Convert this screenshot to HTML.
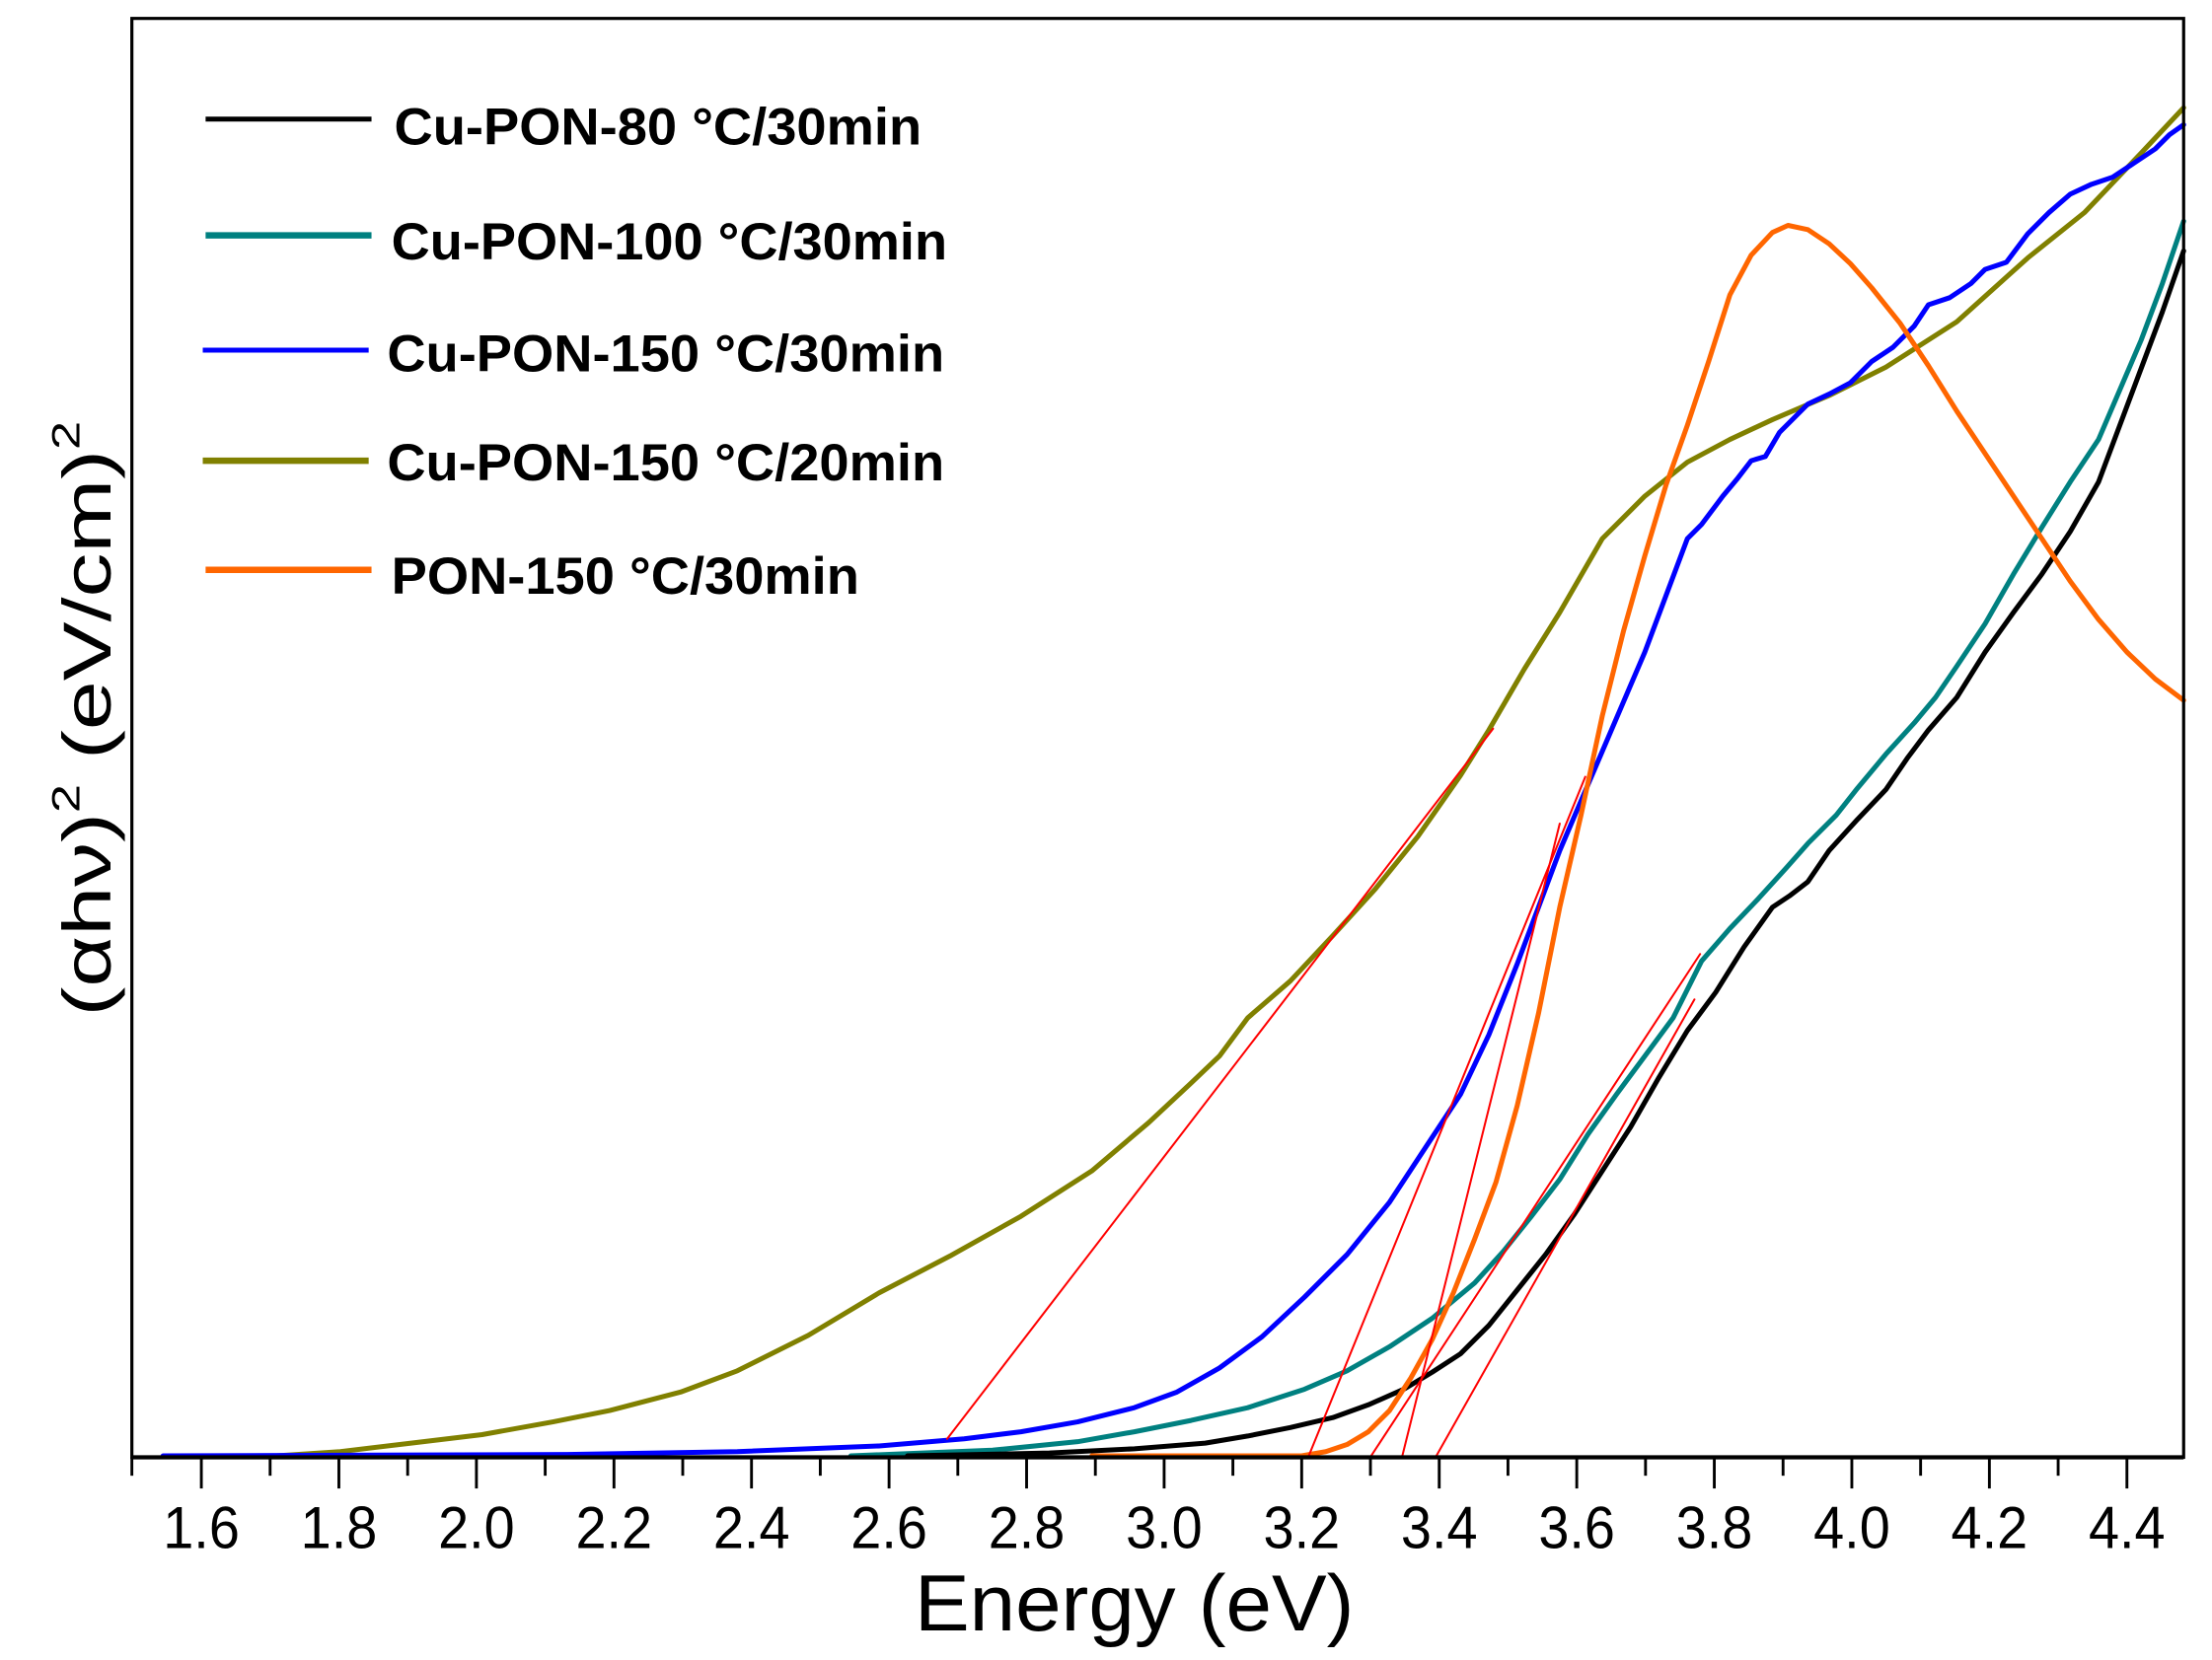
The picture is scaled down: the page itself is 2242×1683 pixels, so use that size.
<!DOCTYPE html>
<html><head><meta charset="utf-8"><style>
html,body{margin:0;padding:0;background:#fff;}
svg{display:block;}
</style></head><body>
<svg width="2242" height="1683" viewBox="0 0 1560 1171" preserveAspectRatio="none" xmlns="http://www.w3.org/2000/svg">
<rect width="1560" height="1171" fill="#fff"/>
<g fill="none" stroke-linejoin="round" stroke-linecap="round">
<polyline stroke="#808000" stroke-width="3.5" points="195,1027 240,1024 290,1018 340,1012 390,1003 430,995 480,982 520,967 570,942 620,912 670,886 720,858 770,826 810,792 840,764 860,745 880,718 910,692 940,660 970,627 1000,590 1030,547 1050,515 1075,472 1100,432 1130,380 1160,350 1190,326 1220,310 1250,296 1290,279 1330,259 1380,227 1430,182 1470,150 1510,108 1540,76"/>
<polyline stroke="#0000ff" stroke-width="3.5" points="115,1027 400,1026 520,1024 620,1020 680,1015 720,1010 760,1003 800,993 830,982 860,965 890,943 920,915 950,885 980,848 1005,810 1030,772 1050,730 1070,680 1085,640 1100,600 1115,565 1130,530 1145,495 1160,460 1175,420 1190,380 1200,370 1215,350 1225,338 1235,325 1245,322 1255,305 1265,295 1275,285 1290,278 1305,270 1320,255 1335,245 1350,230 1360,215 1375,210 1390,200 1400,190 1415,185 1430,165 1445,150 1460,137 1475,130 1490,125 1505,115 1520,105 1530,95 1540,88"/>
<polyline stroke="#008080" stroke-width="3.5" points="600,1027 700,1023 760,1017 800,1010 840,1002 880,993 920,980 950,967 980,950 1010,930 1040,905 1060,883 1080,858 1100,832 1120,800 1140,772 1160,745 1180,718 1200,678 1220,655 1240,634 1260,612 1275,595 1295,575 1310,556 1330,532 1350,510 1365,492 1380,470 1400,440 1420,405 1440,372 1460,340 1480,310 1495,275 1510,240 1525,200 1540,156"/>
<polyline stroke="#000000" stroke-width="3.5" points="640,1027 740,1025 800,1022 850,1018 880,1013 910,1007 940,1000 965,991 990,980 1010,968 1030,955 1050,935 1070,910 1090,885 1110,857 1130,826 1150,795 1170,760 1190,727 1210,700 1230,668 1250,640 1262,632 1275,622 1290,600 1310,578 1330,557 1345,535 1360,515 1380,492 1400,460 1420,432 1440,405 1460,375 1480,340 1495,300 1510,260 1525,220 1540,177"/>
<polyline stroke="#ff6600" stroke-width="3.5" points="770,1027 918,1027 935,1024 950,1019 965,1010 980,995 995,972 1010,945 1025,912 1040,874 1055,834 1070,780 1085,715 1100,640 1115,575 1130,505 1145,445 1160,392 1175,342 1190,300 1205,255 1220,208 1235,180 1250,164 1261,159 1275,162 1290,172 1305,186 1320,203 1340,228 1360,258 1380,290 1400,320 1420,350 1440,380 1460,410 1480,437 1500,460 1520,479 1540,494"/>
<g stroke="#ff0000" stroke-width="1.4">
<line x1="668" y1="1015" x2="1053" y2="514"/>
<line x1="923" y1="1027" x2="1118" y2="548"/>
<line x1="989" y1="1027" x2="1100" y2="581"/>
<line x1="967" y1="1027" x2="1199" y2="673"/>
<line x1="1013" y1="1027" x2="1195" y2="705"/>
</g>
</g>
<rect x="93" y="13" width="1447" height="1015" fill="none" stroke="#000" stroke-width="2.2"/>
<line x1="93" y1="1028" x2="1540" y2="1028" stroke="#000" stroke-width="3"/>
<g stroke="#000" stroke-width="2">
<line x1="93" y1="1028" x2="93" y2="1041"/>
<line x1="142" y1="1028" x2="142" y2="1050"/><line x1="190.5" y1="1028" x2="190.5" y2="1041"/>
<line x1="239" y1="1028" x2="239" y2="1050"/><line x1="287.5" y1="1028" x2="287.5" y2="1041"/>
<line x1="336" y1="1028" x2="336" y2="1050"/><line x1="384.5" y1="1028" x2="384.5" y2="1041"/>
<line x1="433" y1="1028" x2="433" y2="1050"/><line x1="481.5" y1="1028" x2="481.5" y2="1041"/>
<line x1="530" y1="1028" x2="530" y2="1050"/><line x1="578.5" y1="1028" x2="578.5" y2="1041"/>
<line x1="627" y1="1028" x2="627" y2="1050"/><line x1="675.5" y1="1028" x2="675.5" y2="1041"/>
<line x1="724" y1="1028" x2="724" y2="1050"/><line x1="772.5" y1="1028" x2="772.5" y2="1041"/>
<line x1="821" y1="1028" x2="821" y2="1050"/><line x1="869.5" y1="1028" x2="869.5" y2="1041"/>
<line x1="918" y1="1028" x2="918" y2="1050"/><line x1="966.5" y1="1028" x2="966.5" y2="1041"/>
<line x1="1015" y1="1028" x2="1015" y2="1050"/><line x1="1063.5" y1="1028" x2="1063.5" y2="1041"/>
<line x1="1112" y1="1028" x2="1112" y2="1050"/><line x1="1160.5" y1="1028" x2="1160.5" y2="1041"/>
<line x1="1209" y1="1028" x2="1209" y2="1050"/><line x1="1257.5" y1="1028" x2="1257.5" y2="1041"/>
<line x1="1306" y1="1028" x2="1306" y2="1050"/><line x1="1354.5" y1="1028" x2="1354.5" y2="1041"/>
<line x1="1403" y1="1028" x2="1403" y2="1050"/><line x1="1451.5" y1="1028" x2="1451.5" y2="1041"/>
<line x1="1500" y1="1028" x2="1500" y2="1050"/>
</g>
<g font-family="Liberation Sans, Arial, sans-serif" font-size="42" text-anchor="middle" fill="#000">
<text x="142" y="1092" textLength="54" lengthAdjust="spacingAndGlyphs">1.6</text><text x="239" y="1092" textLength="54" lengthAdjust="spacingAndGlyphs">1.8</text><text x="336" y="1092" textLength="54" lengthAdjust="spacingAndGlyphs">2.0</text>
<text x="433" y="1092" textLength="54" lengthAdjust="spacingAndGlyphs">2.2</text><text x="530" y="1092" textLength="54" lengthAdjust="spacingAndGlyphs">2.4</text><text x="627" y="1092" textLength="54" lengthAdjust="spacingAndGlyphs">2.6</text>
<text x="724" y="1092" textLength="54" lengthAdjust="spacingAndGlyphs">2.8</text><text x="821" y="1092" textLength="54" lengthAdjust="spacingAndGlyphs">3.0</text><text x="918" y="1092" textLength="54" lengthAdjust="spacingAndGlyphs">3.2</text>
<text x="1015" y="1092" textLength="54" lengthAdjust="spacingAndGlyphs">3.4</text><text x="1112" y="1092" textLength="54" lengthAdjust="spacingAndGlyphs">3.6</text><text x="1209" y="1092" textLength="54" lengthAdjust="spacingAndGlyphs">3.8</text>
<text x="1306" y="1092" textLength="54" lengthAdjust="spacingAndGlyphs">4.0</text><text x="1403" y="1092" textLength="54" lengthAdjust="spacingAndGlyphs">4.2</text><text x="1500" y="1092" textLength="54" lengthAdjust="spacingAndGlyphs">4.4</text>
<text x="800" y="1150" font-size="56" textLength="310" lengthAdjust="spacingAndGlyphs">Energy (eV)</text>
</g>
<text transform="translate(78,507) rotate(-90)" font-family="Liberation Sans, Arial, sans-serif" font-size="48" text-anchor="middle" fill="#000" textLength="420" lengthAdjust="spacingAndGlyphs">(αhν)<tspan font-size="28" dy="-22">2</tspan><tspan dy="22"> (eV/cm)</tspan><tspan font-size="28" dy="-22">2</tspan></text>
<g stroke-width="3.5">
<line x1="145" y1="84" x2="262" y2="84" stroke="#000"/>
<line x1="145" y1="166" x2="262" y2="166" stroke="#008080" stroke-width="4.5"/>
<line x1="143" y1="247" x2="260" y2="247" stroke="#0000ff"/>
<line x1="143" y1="325" x2="260" y2="325" stroke="#808000" stroke-width="4.5"/>
<line x1="145" y1="402" x2="262" y2="402" stroke="#ff6600" stroke-width="4.5"/>
</g>
<g font-family="Liberation Sans, Arial, sans-serif" font-size="37" font-weight="bold" fill="#000">
<text x="278" y="102" textLength="372" lengthAdjust="spacingAndGlyphs">Cu-PON-80 °C/30min</text>
<text x="276" y="183" textLength="392" lengthAdjust="spacingAndGlyphs">Cu-PON-100 °C/30min</text>
<text x="273" y="262" textLength="393" lengthAdjust="spacingAndGlyphs">Cu-PON-150 °C/30min</text>
<text x="273" y="339" textLength="393" lengthAdjust="spacingAndGlyphs">Cu-PON-150 °C/20min</text>
<text x="276" y="419" textLength="330" lengthAdjust="spacingAndGlyphs">PON-150 °C/30min</text>
</g>
</svg>
</body></html>
